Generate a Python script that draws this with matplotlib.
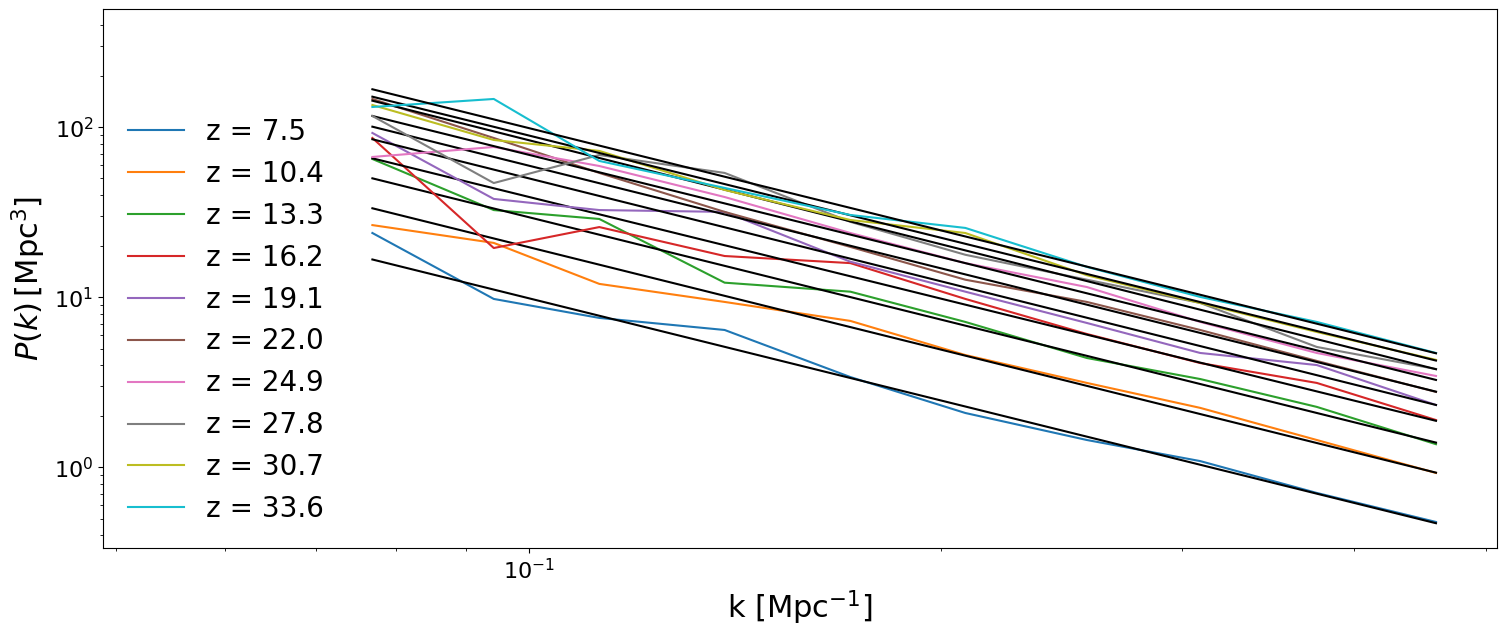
import numpy as np
import matplotlib
matplotlib.use('Agg')
import matplotlib.pyplot as plt

# k bins [Mpc^-1]
k = [0.0769, 0.0943, 0.1126, 0.1390, 0.1717, 0.2083, 0.2555, 0.3091, 0.3760, 0.4594]

redshifts = [7.5, 10.4, 13.3, 16.2, 19.1, 22.0, 24.9, 27.8, 30.7, 33.6]

# measured power spectra P(k) [Mpc^3], one list per redshift
pk_z7_5 = [23.9, 9.79, 7.57, 6.43, 3.40, 2.09, 1.45, 1.09, 0.708, 0.478]
pk_z10_4 = [26.6, 20.9, 12.0, 9.40, 7.27, 4.58, 3.14, 2.24, 1.45, 0.928]
pk_z13_3 = [65.1, 32.6, 28.9, 12.2, 10.8, 7.17, 4.40, 3.31, 2.27, 1.37]
pk_z16_2 = [86.5, 19.5, 25.9, 17.5, 15.9, 9.79, 6.09, 4.11, 3.14, 1.90]
pk_z19_1 = [92.6, 37.9, 32.6, 31.8, 16.2, 10.8, 7.07, 4.71, 4.00, 2.33]
pk_z22_0 = [146.7, 86.5, 53.9, 31.8, 19.8, 12.7, 9.40, 6.43, 4.23, 2.78]
pk_z24_9 = [66.9, 76.6, 59.2, 38.9, 23.9, 15.9, 11.5, 7.17, 4.71, 3.45]
pk_z27_8 = [116.5, 47.0, 68.7, 53.9, 27.8, 17.8, 12.7, 9.27, 5.11, 3.79]
pk_z30_7 = [135.2, 84.2, 72.6, 42.8, 28.5, 23.9, 13.5, 9.27, 6.26, 4.29]
pk_z33_6 = [131.6, 146.7, 63.4, 44.0, 30.5, 25.6, 15.1, 10.06, 7.17, 4.71]

spectra = [pk_z7_5, pk_z10_4, pk_z13_3, pk_z16_2, pk_z19_1,
           pk_z22_0, pk_z24_9, pk_z27_8, pk_z30_7, pk_z33_6]

# power-law fits, value at first and last k bin
fit_lo = [16.7, 33.4, 50.1, 65.7, 85.0, 100.8, 116.5, 143.3, 151.3, 167.3]
fit_hi = [0.470, 0.932, 1.40, 1.88, 2.33, 2.79, 3.27, 3.78, 4.25, 4.69]

fig = plt.figure(figsize=(15.08, 6.37), dpi=100)
ax = fig.add_axes([0.0683, 0.1397, 0.9244, 0.8462])

for z, pk, lo, hi in zip(redshifts, spectra, fit_lo, fit_hi):
    ax.plot(k, pk, label='z = ' + str(z))
    ax.plot([k[0], k[-1]], [lo, hi], color='k')

ax.set_xscale('log')
ax.set_yscale('log')
ax.set_xlim(0.0489, 0.509)
ax.set_ylim(0.336, 496)
ax.tick_params(labelsize=16)
ax.set_xlabel(r'k [Mpc$^{-1}$]', fontsize=22)
ax.set_ylabel(r'$P(k)\,[\mathrm{Mpc}^3]$', fontsize=22)
ax.legend(loc='lower left', frameon=False, fontsize=20)

fig.savefig('out.png', dpi=100)
